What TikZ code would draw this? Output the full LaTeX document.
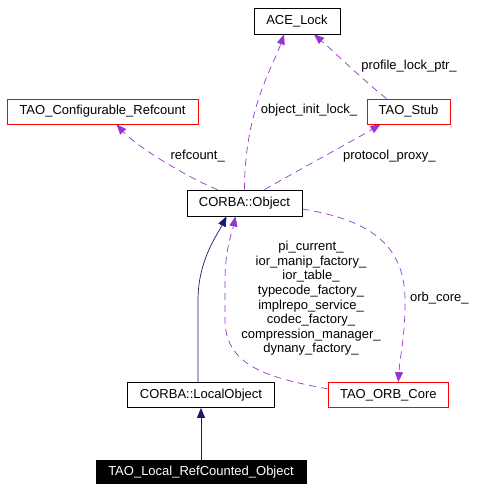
\documentclass[tikz,border=0pt]{standalone}
\usepackage{fontspec}
\setmainfont{Liberation Sans}
\usetikzlibrary{arrows.meta}
\definecolor{edgepurple}{HTML}{9A32CD}
\definecolor{edgenavy}{HTML}{191970}
\tikzset{
  box/.style={draw=black, line width=0.8bp, inner sep=0pt, font=\fontsize{13bp}{15bp}\selectfont, text height=9.5bp, text depth=2.5bp},
  redbox/.style={box, draw=red},
  blackbox/.style={box, fill=black, text=white},
  usage/.style={draw=edgepurple, line width=0.7bp, dash pattern=on 7bp off 5bp, -{Triangle[length=10bp,width=8bp,fill=edgepurple]}},
  inherit/.style={draw=edgenavy, line width=0.7bp, -{Triangle[length=10bp,width=8bp,fill=edgenavy]}},
  lbl/.style={font=\fontsize{13bp}{14.6bp}\selectfont, align=center, inner sep=0pt}
}
\begin{document}
\begin{tikzpicture}[x=1bp,y=-1bp]
\useasboundingbox (0,0) rectangle (487,491);
\node[box, minimum width=86bp, minimum height=26bp] (ace) at (297,21) {ACE\_Lock};
\node[redbox, minimum width=191bp, minimum height=25bp] (refc) at (102.5,111.5) {TAO\_Configurable\_Refcount};
\node[redbox, minimum width=83bp, minimum height=25bp] (stub) at (408.5,111.5) {TAO\_Stub};
\node[box, minimum width=115bp, minimum height=26bp] (obj) at (244.5,203) {CORBA::Object};
\node[box, minimum width=147bp, minimum height=25bp] (lobj) at (201,395) {CORBA::LocalObject};
\node[redbox, minimum width=120bp, minimum height=25bp] (orb) at (388.3,395) {TAO\_ORB\_Core};
\node[blackbox, minimum width=210bp, minimum height=23bp] (local) at (201,472) {TAO\_Local\_RefCounted\_Object};

% inheritance
\draw[inherit] (local.north) -- (lobj.north |- lobj.south);
\draw[inherit] ([xshift=-3bp]lobj.north) -- ++(0,-82) .. controls +(0,-40) and +(-9,18) .. ([xshift=-18bp]obj.south);

% usage
\draw[usage] (obj.north) .. controls +(0,-80) and +(-10,30) .. ([xshift=-13bp]ace.south);
\draw[usage] ([xshift=-22bp]stub.north) .. controls +(-25,-20) and +(14,12) .. ([xshift=17bp]ace.south);
\draw[usage] ([xshift=-27bp]obj.north) .. controls +(-30,-12) and +(20,22) .. ([xshift=14bp]refc.south);
\draw[usage] ([xshift=20bp]obj.north) .. controls +(35,-20) and +(-20,12) .. ([xshift=-28bp]stub.south);
\draw[usage] ([yshift=-6bp]obj.east) .. controls +(60,10) and +(0,-60) .. (405,300) .. controls +(0,40) and +(2,-30) .. ([xshift=10bp]orb.north);
\draw[usage] ([yshift=6bp]orb.west) .. controls +(-50,-10) and +(0,50) .. (225,320) -- (225,280) .. controls +(0,-30) and +(-3,14) .. ([xshift=-9bp]obj.south);

% labels
\node[lbl] (l1) at (197.7,155.7) {refcount\_};
\node[lbl] (l2) at (389.3,155.7) {protocol\_proxy\_};
\node[lbl] (l3) at (309,110.3) {object\_init\_lock\_};
\node[lbl] (l4) at (409,66) {profile\_lock\_ptr\_};
\node[lbl] (l5) at (439.3,298.3) {orb\_core\_};
\node[lbl] (l6) at (311,298.5) {pi\_current\_\\ior\_manip\_factory\_\\ior\_table\_\\typecode\_factory\_\\implrepo\_service\_\\codec\_factory\_\\compression\_manager\_\\dynany\_factory\_};
\end{tikzpicture}
\end{document}
